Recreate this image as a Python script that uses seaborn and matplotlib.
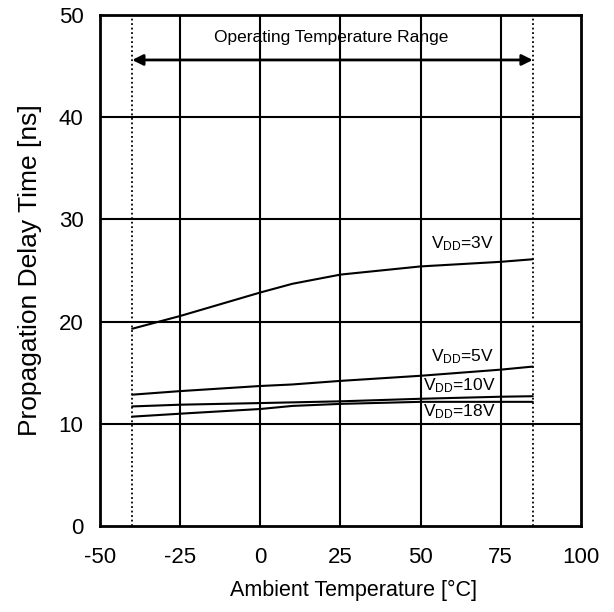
import pandas as pd
import seaborn as sns
import matplotlib
matplotlib.use('Agg')
import matplotlib.pyplot as plt

# values
temp_3v = [-40, -25, 0, 10, 25, 50, 75, 85]
delay_3v = [19.3, 20.55, 22.85, 23.7, 24.6, 25.4, 25.85, 26.1]
temp_5v = [-40, -25, 0, 10, 25, 50, 75, 85]
delay_5v = [12.85, 13.2, 13.7, 13.85, 14.2, 14.7, 15.3, 15.6]
temp_10v = [-40, -25, 0, 25, 50, 75, 85]
delay_10v = [11.7, 11.87, 12.03, 12.2, 12.45, 12.65, 12.7]
temp_18v = [-40, -25, 0, 10, 25, 50, 75, 85]
delay_18v = [10.7, 10.99, 11.45, 11.75, 11.95, 12.15, 12.15, 12.15]

series_names = ['3V', '5V', '10V', '18V']
label_x = [63, 63, 62, 62]
label_y = [27.6, 16.6, 13.7, 11.2]

op_range = [-40, 85]
x_ticks = [-50, -25, 0, 25, 50, 75, 100]
y_ticks = [0, 10, 20, 30, 40, 50]

df = pd.concat([
    pd.DataFrame({'temp': temp_3v, 'delay': delay_3v, 'vdd': '3V'}),
    pd.DataFrame({'temp': temp_5v, 'delay': delay_5v, 'vdd': '5V'}),
    pd.DataFrame({'temp': temp_10v, 'delay': delay_10v, 'vdd': '10V'}),
    pd.DataFrame({'temp': temp_18v, 'delay': delay_18v, 'vdd': '18V'}),
], ignore_index=True)

sns.set_theme(style='white')
plt.rcParams['font.family'] = ['Liberation Sans', 'DejaVu Sans']
plt.rcParams['mathtext.fontset'] = 'custom'
plt.rcParams['mathtext.rm'] = 'Liberation Sans'
plt.rcParams['mathtext.default'] = 'regular'
plt.rcParams['text.color'] = 'black'
plt.rcParams['axes.labelcolor'] = 'black'
plt.rcParams['xtick.color'] = 'black'
plt.rcParams['ytick.color'] = 'black'

fig, ax = plt.subplots(figsize=(6.14, 6.12), dpi=100)
fig.subplots_adjust(left=0.163, right=0.946, top=0.9755, bottom=0.1405)

# grid first so curves sit on top
for xv in x_ticks[1:-1]:
    ax.axvline(xv, color='black', lw=1.5, zorder=1)
for yv in y_ticks[1:-1]:
    ax.axhline(yv, color='black', lw=1.5, zorder=1)
for xv in op_range:
    ax.axvline(xv, color='black', lw=1.3, ls=(0, (1, 1.5)), zorder=1)

sns.lineplot(data=df, x='temp', y='delay', hue='vdd', hue_order=series_names,
             palette=['black'] * 4, lw=1.5, legend=False, sort=False, ax=ax, zorder=3)

for name, lx, ly in zip(series_names, label_x, label_y):
    ax.text(lx, ly, 'V$_{DD}$=' + name, ha='center', va='center', fontsize=12.5, zorder=4)

ax.annotate('', xy=(op_range[0], 45.6), xytext=(op_range[1], 45.6),
            arrowprops=dict(arrowstyle='<|-|>', color='black', lw=2, mutation_scale=16,
                            shrinkA=0, shrinkB=0))
ax.text(22, 47.8, 'Operating Temperature Range', ha='center', va='center', fontsize=12.5)

ax.set_xlim(-50, 100)
ax.set_ylim(0, 50)
ax.set_xticks(x_ticks)
ax.set_yticks(y_ticks)
ax.set_xticklabels([str(v) for v in x_ticks])
ax.tick_params(axis='both', length=0, labelsize=16)
ax.tick_params(axis='x', pad=15)
ax.tick_params(axis='y', pad=12)
ax.set_xlabel('Ambient Temperature [°C]', fontsize=15.5, labelpad=9)
ax.xaxis.label.set_x(0.527)
ax.set_ylabel('Propagation Delay Time [ns]', fontsize=19, labelpad=12)
for sp in ax.spines.values():
    sp.set_color('black')
    sp.set_linewidth(2)

plt.savefig('out.png', dpi=100)
